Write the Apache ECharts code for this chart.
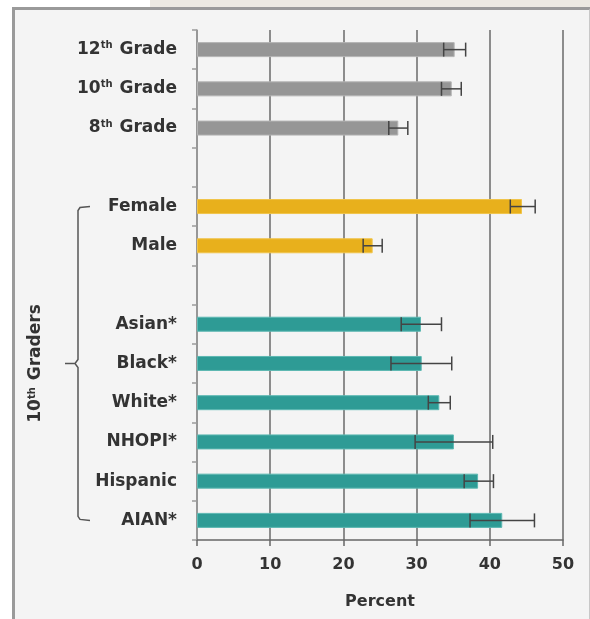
<!DOCTYPE html>
<html><head><meta charset="utf-8">
<script src="https://cdn.jsdelivr.net/npm/echarts@6/dist/echarts.min.js"></script>
<style>
html,body{margin:0;padding:0;background:#fff;}
#wrap{position:relative;width:590px;height:619px;overflow:hidden;}
#band{position:absolute;left:150px;top:0;width:440px;height:7px;background:#ece9e2;}
#frame{position:absolute;left:12px;top:7px;width:574px;height:620px;border:3px solid #9a9a9a;border-right:2px solid #c8c8c8;background:#f4f4f4;}
#chart{position:absolute;left:0;top:0;width:590px;height:619px;}
</style></head>
<body><div id="wrap"><div id="band"></div><div id="frame"></div><div id="chart"></div></div>
<script>
const categories = ['12th Grade','10th Grade','8th Grade','','Female','Male','','Asian*','Black*','White*','NHOPI*','Hispanic','AIAN*'];
const values   = [35.2, 34.8, 27.5, null, 44.4, 24.0, null, 30.6, 30.7, 33.1, 35.1, 38.4, 41.7];
const errLow   = [33.7, 33.4, 26.2, null, 42.8, 22.7, null, 27.9, 26.5, 31.6, 29.8, 36.5, 37.3];
const errHigh  = [36.7, 36.1, 28.8, null, 46.2, 25.3, null, 33.4, 34.8, 34.6, 40.4, 40.5, 46.1];
const groups   = ['grade','grade','grade',null,'sex','sex',null,'race','race','race','race','race','race'];
const xTicks   = [0, 10, 20, 30, 40, 50];
const groupColors = {grade:'#969696', sex:'#e8b01c', race:'#2e9b95'};
const groupBorders = {grade:'#b4b4b4', sex:'#f0c44a', race:'#5cb8b2'};
const FONT = 'DejaVu Sans';

const chart = echarts.init(document.getElementById('chart'), null, {renderer:'canvas'});
const barData = values.map((v,i)=> v==null ? '-' : {value:v, itemStyle:{color:groupColors[groups[i]], borderColor:groupBorders[groups[i]], borderWidth:1}});
const errData = values.map((v,i)=> v==null ? null : [i, errLow[i], errHigh[i]]).filter(d=>d);
const supStyle = {fontFamily:FONT, fontWeight:'bold', fontSize:10, color:'#333', verticalAlign:'top', padding:[0,1,8,0]};

chart.setOption({
  animation:false,
  backgroundColor:'transparent',
  grid:{left:197, right:27, top:30, bottom:79},
  xAxis:{type:'value', min:xTicks[0], max:xTicks[xTicks.length-1], interval:10,
    name:'Percent', nameLocation:'middle', nameGap:54,
    nameTextStyle:{fontFamily:FONT, fontWeight:'bold', fontSize:16, color:'#333'},
    axisLine:{show:true, lineStyle:{color:'#666', width:1.5}},
    axisTick:{show:true, length:6, lineStyle:{color:'#666', width:1.5}},
    axisLabel:{fontFamily:FONT, fontWeight:'bold', fontSize:16, color:'#333', margin:17},
    splitLine:{show:true, lineStyle:{color:'#6a6a6a', width:1.5}}
  },
  yAxis:{type:'category', data:categories, inverse:true,
    axisLine:{show:true, lineStyle:{color:'#9a9a9a', width:1.5}},
    axisTick:{show:true, length:5, lineStyle:{color:'#9a9a9a', width:1.5}},
    axisLabel:{fontFamily:FONT, fontWeight:'bold', fontSize:17, color:'#333', margin:20,
      formatter:function(v){ return v.replace(/^(\d+)th/, '$1{sup|th}'); },
      rich:{sup:supStyle}
    }
  },
  series:[
    {type:'bar', data:barData, barWidth:15},
    {type:'custom', data:errData, z:5,
      renderItem:function(params, api){
        const c = api.value(0);
        const lo = api.coord([api.value(1), c]);
        const hi = api.coord([api.value(2), c]);
        const h = 7;
        const st = {stroke:'#444', lineWidth:1.5};
        return {type:'group', children:[
          {type:'line', shape:{x1:lo[0], y1:lo[1], x2:hi[0], y2:hi[1]}, style:st},
          {type:'line', shape:{x1:lo[0], y1:lo[1]-h, x2:lo[0], y2:lo[1]+h}, style:st},
          {type:'line', shape:{x1:hi[0], y1:hi[1]-h, x2:hi[0], y2:hi[1]+h}, style:st}
        ]};
      },
      encode:{x:[1,2], y:0}
    }
  ]
});

// bracket spanning the 10th-grader subgroups
const firstIdx = categories.indexOf('Female');
const lastIdx = categories.length - 1;
const yTop = chart.convertToPixel({yAxisIndex:0}, firstIdx);
const yBot = chart.convertToPixel({yAxisIndex:0}, lastIdx);
const yMid = (yTop + yBot) / 2;
const bx = 78;
chart.setOption({graphic:[
  {type:'polyline', shape:{points:[[90,yTop],[80,yTop+1],[bx,yTop+4],[bx,yMid-4],[bx-3,yMid],[65,yMid],[bx-3,yMid],[bx,yMid+4],[bx,yBot-4],[80,yBot-1],[90,yBot]]},
    style:{stroke:'#555', lineWidth:1.5, fill:null}},
  {type:'text', x:36, y:yMid, rotation:Math.PI/2,
    style:{text:'10{sup|th} Graders', align:'center', verticalAlign:'middle',
      fontFamily:FONT, fontWeight:'bold', fontSize:17, fill:'#333',
      rich:{sup:{fontFamily:FONT, fontWeight:'bold', fontSize:10, fill:'#333', verticalAlign:'top', padding:[0,1,8,0]}}}}
]});
</script></body></html>
